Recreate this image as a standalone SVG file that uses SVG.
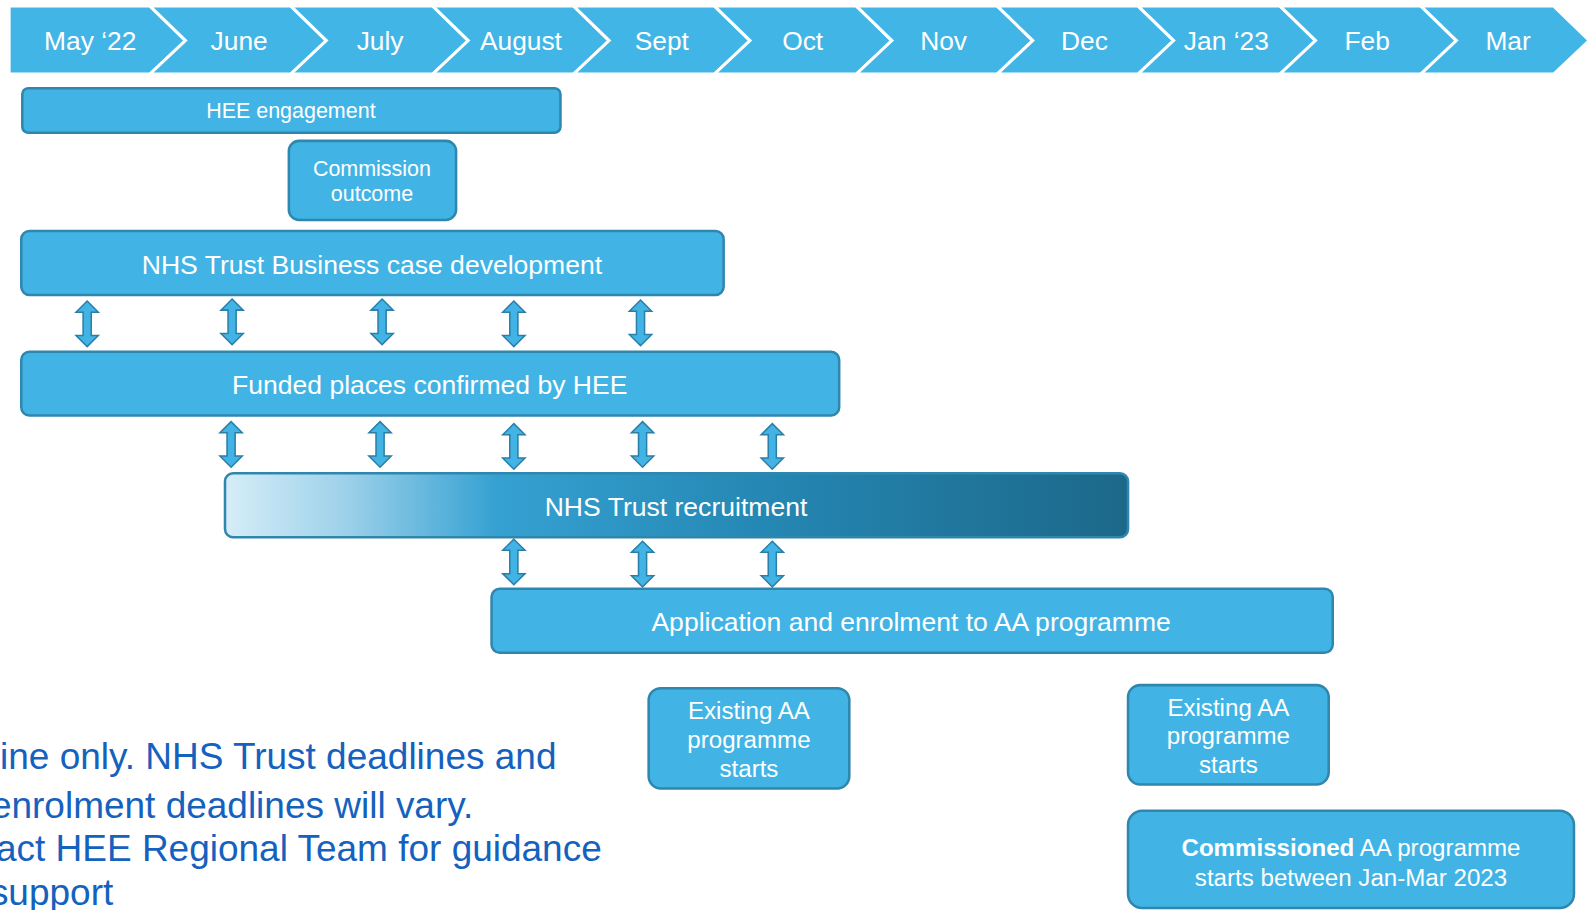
<svg xmlns="http://www.w3.org/2000/svg" width="1587" height="910" viewBox="0 0 1587 910">
<defs>
<style>
.chev{fill:#41b5e6;stroke:#ffffff;stroke-width:3;stroke-linejoin:miter}
.mon{font-family:"Liberation Sans",Arial,sans-serif;font-size:26px;fill:#ffffff;text-anchor:middle}
.box{fill:#41b4e5;stroke:#2f87ae;stroke-width:2.5}
.t20{font-family:"Liberation Sans",Arial,sans-serif;font-size:21.2px;fill:#ffffff;text-anchor:middle}
.t25{font-family:"Liberation Sans",Arial,sans-serif;font-size:26.2px;fill:#ffffff;text-anchor:middle}
.t23{font-family:"Liberation Sans",Arial,sans-serif;font-size:23.8px;fill:#ffffff;text-anchor:middle}
.note{font-family:"Liberation Sans",Arial,sans-serif;font-size:36.5px;fill:#1561be}
.arr{fill:#41b4e5;stroke:#2a7fa8;stroke-width:1.5;stroke-linejoin:miter}
</style>
<linearGradient id="grad" x1="0" y1="0" x2="1" y2="0">
<stop offset="0" stop-color="#d6edf8"/>
<stop offset="0.13" stop-color="#9fd2ea"/>
<stop offset="0.3" stop-color="#35a1d2"/>
<stop offset="0.6" stop-color="#2587b3"/>
<stop offset="1" stop-color="#1c6889"/>
</linearGradient>
<path id="dbl" d="M0,0 L11,11 L4,11 L4,34 L11,34 L0,45 L-11,34 L-4,34 L-4,11 L-11,11 Z"/>
</defs>

<g id="diagram" transform="scale(1.0135)">
<g id="timeline">
<polygon class="chev" points="9,6 148,6 183,40 148,73 9,73"/>
<polygon class="chev" points="148,6 287,6 322,40 287,73 148,73 183,40"/>
<polygon class="chev" points="287,6 427,6 462,40 427,73 287,73 322,40"/>
<polygon class="chev" points="427,6 566,6 601,40 566,73 427,73 462,40"/>
<polygon class="chev" points="566,6 705,6 740,40 705,73 566,73 601,40"/>
<polygon class="chev" points="705,6 845,6 880,40 845,73 705,73 740,40"/>
<polygon class="chev" points="845,6 984,6 1019,40 984,73 845,73 880,40"/>
<polygon class="chev" points="984,6 1123,6 1158,40 1123,73 984,73 1019,40"/>
<polygon class="chev" points="1123,6 1263,6 1298,40 1263,73 1123,73 1158,40"/>
<polygon class="chev" points="1263,6 1402,6 1437,40 1402,73 1263,73 1298,40"/>
<polygon class="chev" points="1402,6 1533,6 1568,40 1533,73 1402,73 1437,40"/>
<text class="mon" x="89" y="49">May ‘22</text>
<text class="mon" x="236" y="49">June</text>
<text class="mon" x="375" y="49">July</text>
<text class="mon" x="514" y="49">August</text>
<text class="mon" x="653" y="49">Sept</text>
<text class="mon" x="792" y="49">Oct</text>
<text class="mon" x="931" y="49">Nov</text>
<text class="mon" x="1070" y="49">Dec</text>
<text class="mon" x="1210" y="49">Jan ‘23</text>
<text class="mon" x="1349" y="49">Feb</text>
<text class="mon" x="1488" y="49">Mar</text>
</g>

<g id="hee-engagement">
<rect class="box" x="22" y="87" width="531" height="44" rx="6"/>
<text class="t20" x="287" y="116">HEE engagement</text>
</g>

<g id="commission-outcome">
<rect class="box" x="285" y="139" width="165" height="78" rx="10"/>
<text class="t20" x="367" y="174">Commission</text>
<text class="t20" x="367" y="198">outcome</text>
</g>

<g id="business-case">
<rect class="box" x="21" y="228" width="693" height="63" rx="8"/>
<text class="t25" x="367" y="270">NHS Trust Business case development</text>
</g>

<g id="funded-places">
<rect class="box" x="21" y="347" width="807" height="63" rx="8"/>
<text class="t25" x="424" y="389">Funded places confirmed by HEE</text>
</g>

<g id="trust-recruitment">
<rect x="222" y="467" width="891" height="63" rx="8" fill="url(#grad)" stroke="#2f87ae" stroke-width="2.5"/>
<text class="t25" x="667" y="509">NHS Trust recruitment</text>
</g>

<g id="application">
<rect class="box" x="485" y="581" width="830" height="63" rx="8"/>
<text class="t25" x="899" y="623">Application and enrolment to AA programme</text>
</g>

<g id="existing-1">
<rect class="box" x="640" y="679" width="198" height="99" rx="12"/>
<text class="t23" x="739" y="709">Existing AA</text>
<text class="t23" x="739" y="738">programme</text>
<text class="t23" x="739" y="767">starts</text>
</g>

<g id="existing-2">
<rect class="box" x="1113" y="676" width="198" height="98" rx="12"/>
<text class="t23" x="1212" y="706">Existing AA</text>
<text class="t23" x="1212" y="734">programme</text>
<text class="t23" x="1212" y="763">starts</text>
</g>

<g id="commissioned">
<rect class="box" x="1113" y="800" width="440" height="96" rx="14"/>
<text class="t23" x="1333" y="845"><tspan font-weight="bold">Commissioned</tspan> AA programme</text>
<text class="t23" x="1333" y="874">starts between Jan-Mar 2023</text>
</g>

<g id="note">
<text class="note" x="0" y="759">ine only. NHS Trust deadlines and</text>
<text class="note" x="-9" y="807">enrolment deadlines will vary.</text>
<text class="note" x="-4" y="850">act HEE Regional Team for guidance</text>
<text class="note" x="-10" y="893">support</text>
</g>

<g id="connectors">
<use href="#dbl" class="arr" x="86" y="297"/>
<use href="#dbl" class="arr" x="229" y="295"/>
<use href="#dbl" class="arr" x="377" y="295"/>
<use href="#dbl" class="arr" x="507" y="297"/>
<use href="#dbl" class="arr" x="632" y="296"/>
<use href="#dbl" class="arr" x="228" y="416"/>
<use href="#dbl" class="arr" x="375" y="416"/>
<use href="#dbl" class="arr" x="507" y="418"/>
<use href="#dbl" class="arr" x="634" y="416"/>
<use href="#dbl" class="arr" x="762" y="418"/>
<use href="#dbl" class="arr" x="507" y="532"/>
<use href="#dbl" class="arr" x="634" y="534"/>
<use href="#dbl" class="arr" x="762" y="534"/>
</g>
</g>
</svg>
